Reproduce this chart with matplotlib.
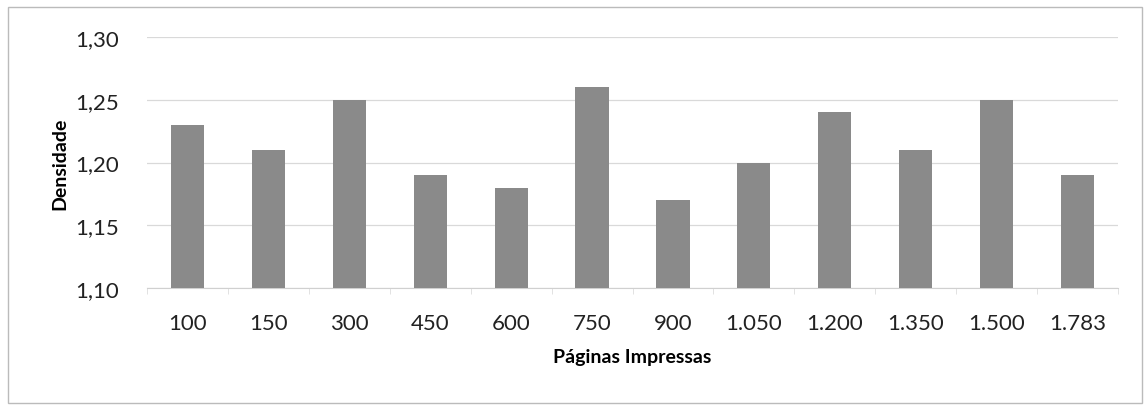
import matplotlib
matplotlib.use('Agg')
import matplotlib.pyplot as plt
import numpy as np

plt.rcParams['font.family'] = ['Lato', 'DejaVu Sans']

paginas = ['100', '150', '300', '450', '600', '750', '900',
           '1.050', '1.200', '1.350', '1.500', '1.783']
densidade = [1.23, 1.21, 1.25, 1.19, 1.18, 1.26, 1.17,
             1.20, 1.24, 1.21, 1.25, 1.19]
yticks = [1.10, 1.15, 1.20, 1.25, 1.30]

fig = plt.figure(figsize=(11.44, 4.06), dpi=100)
ax = fig.add_axes([147/1144, 1 - 289/406, (1118-147)/1144, (289-38)/406])

x = np.arange(len(paginas))
base = 1.10
ax.bar(x, np.array(densidade) - base, bottom=base, width=0.41,
       color='#8a8a8a', edgecolor='none', zorder=3)

ax.set_xlim(-0.5, len(paginas) - 0.5)
ax.set_ylim(1.10, 1.30)
ax.set_yticks(yticks)
ax.set_yticklabels([f'{v:.2f}'.replace('.', ',') for v in yticks])
ax.set_xticks(x)
ax.set_xticklabels(paginas)
ax.set_xticks(np.arange(len(paginas) + 1) - 0.5, minor=True)
ax.tick_params(axis='x', which='major', length=0, pad=18, labelsize=16, colors='#222')
ax.tick_params(axis='x', which='minor', length=4, color='#dddddd')
ax.tick_params(axis='y', length=0, pad=20, labelsize=16, colors='#222')

ax.grid(axis='y', color='#d9d9d9', linewidth=0.9, zorder=0)
for s in ['top', 'right', 'left']:
    ax.spines[s].set_visible(False)
ax.spines['bottom'].set_color('#d0d0d0')

ax.set_xlabel('Páginas Impressas', fontsize=14, fontweight='bold', labelpad=11)
ax.set_ylabel('Densidade', fontsize=14, fontweight='bold', labelpad=5)

# outer chart frame
fig.patches.append(plt.Rectangle((8/1144, 0.005), 1 - 10/1144, 1 - 8/406 - 0.005,
                                 transform=fig.transFigure, fill=False,
                                 edgecolor='#bbbbbb', linewidth=1))

fig.savefig('out.png', dpi=100, facecolor='white')
